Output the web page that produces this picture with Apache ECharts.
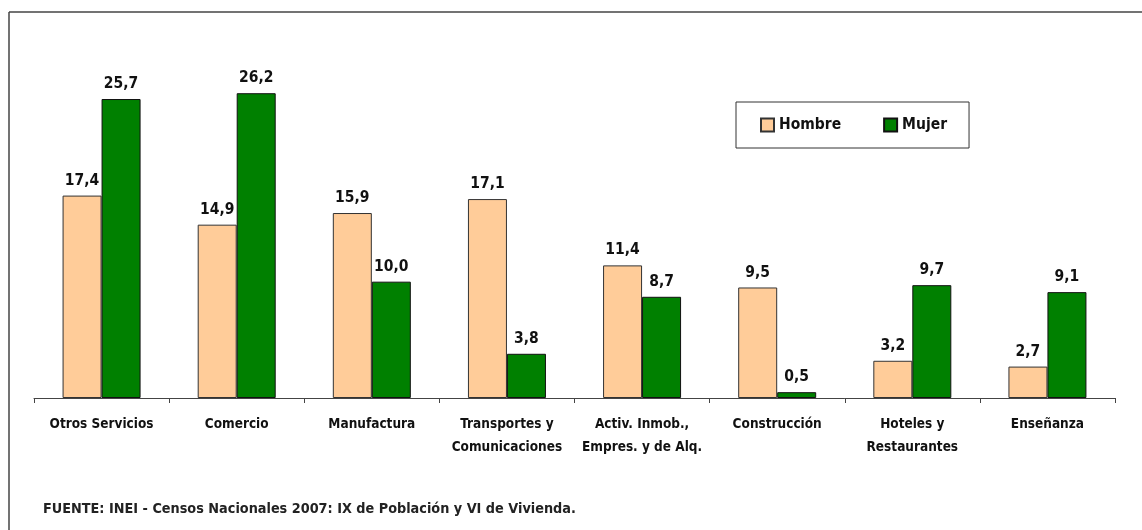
<!DOCTYPE html>
<html>
<head>
<meta charset="utf-8">
<script src="https://cdn.jsdelivr.net/npm/echarts@6/dist/echarts.min.js"></script>
<style>
	html, body { margin: 0; padding: 0; background: #fff; }
	#chart { width: 1142px; height: 530px; }
</style>
</head>
<body>
<div id="chart"></div>
<script>
	// ramas de actividad
	var categorias = ['Otros Servicios', 'Comercio', 'Manufactura', 'Transportes y\nComunicaciones',
		'Activ. Inmob.,\nEmpres. y de Alq.', 'Construcción', 'Hoteles y\nRestaurantes', 'Enseñanza']
	var hombre = [17.4, 14.9, 15.9, 17.1, 11.4, 9.5, 3.2, 2.7]
	var mujer = [25.7, 26.2, 10.0, 3.8, 8.7, 0.5, 9.7, 9.1]
	var fuente = 'FUENTE: INEI - Censos Nacionales 2007: IX de Población y VI de Vivienda.'

	var fuenteNarrow = '"Liberation Sans Narrow", "Arial Narrow", "DejaVu Sans Condensed", sans-serif'

	var chart = echarts.init(document.getElementById('chart'))

	var etiqueta = {
		show: true,
		position: 'top',
		distance: 7,
		fontFamily: fuenteNarrow,
		fontWeight: 'bold',
		fontSize: 15.5,
		color: '#111',
		formatter: function (p) {
			return p.value.toFixed(1).replace('.', ',')
		}
	}

	chart.setOption({
		animation: false,
		title: {
			text: fuente,
			left: 43,
			top: 502,
			padding: 0,
			textStyle: {
				fontFamily: fuenteNarrow,
				fontWeight: 'bold',
				fontSize: 14.3,
				color: '#222'
			}
		},
		graphic: [
			{ type: 'line', shape: { x1: 9, y1: 12, x2: 1142, y2: 12 }, style: { stroke: '#444', lineWidth: 1.5 } },
			{ type: 'line', shape: { x1: 9, y1: 12, x2: 9, y2: 530 }, style: { stroke: '#444', lineWidth: 1.5 } }
		],
		legend: {
			data: ['Hombre', 'Mujer'],
			left: 736,
			top: 102,
			orient: 'horizontal',
			padding: [15, 22, 15, 24],
			itemGap: 42,
			itemWidth: 13,
			itemHeight: 13,
			borderColor: '#333',
			borderWidth: 1,
			icon: 'rect',
			textStyle: {
				fontFamily: fuenteNarrow,
				fontWeight: 'bold',
				fontSize: 15.5,
				color: '#111'
			}
		},
		grid: {
			left: 34,
			right: 27,
			top: 49,
			bottom: 132
		},
		xAxis: {
			type: 'category',
			data: categorias,
			axisLine: { lineStyle: { color: '#444', width: 1 } },
			axisTick: { show: true, length: 5, lineStyle: { color: '#444' } },
			axisLabel: {
				interval: 0,
				margin: 15,
				fontFamily: fuenteNarrow,
				fontWeight: 'bold',
				fontSize: 13.5,
				lineHeight: 23,
				color: '#111'
			}
		},
		yAxis: {
			type: 'value',
			min: 0,
			max: 30,
			show: false
		},
		series: [
			{
				name: 'Hombre',
				type: 'bar',
				data: hombre,
				barWidth: 39,
				barGap: '0%',
				itemStyle: { color: '#FFCC99', borderColor: '#333', borderWidth: 1 },
				label: etiqueta
			},
			{
				name: 'Mujer',
				type: 'bar',
				data: mujer,
				barWidth: 39,
				barGap: '0%',
				itemStyle: { color: '#008000', borderColor: '#111', borderWidth: 1 },
				label: etiqueta
			}
		]
	})
</script>
</body>
</html>
